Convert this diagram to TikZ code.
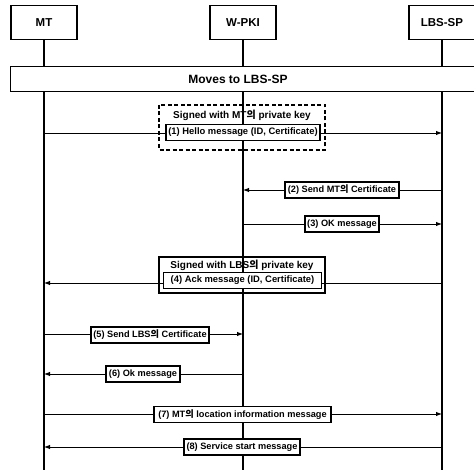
\documentclass[tikz,border=0pt]{standalone}
\usepackage{fontspec}
\setmainfont{Liberation Sans}
\newfontfamily\kr{Noto Sans CJK KR}
\usetikzlibrary{arrows.meta}
\newcommand{\ui}{{\kr 의}}
\tikzset{
  actor/.style={draw, line width=1.8pt, minimum width=66pt, minimum height=34pt, font=\fontsize{11.5}{13}\selectfont\bfseries},
  life/.style={line width=1.4pt},
  msg/.style={line width=0.9pt, -{Latex[length=6pt,width=4.5pt]}},
  lbl/.style={draw, line width=1.3pt, fill=white, inner sep=1pt, minimum height=16pt, font=\fontsize{9.2}{10}\selectfont\bfseries},
  grp/.style={line width=1.1pt, inner sep=0pt},
  grptxt/.style={font=\fontsize{10}{11}\selectfont\bfseries},
}
\begin{document}
\begin{tikzpicture}[x=1pt,y=-1pt]
\useasboundingbox (0,0) rectangle (474,470);
\clip (0,0) rectangle (474,470);
% actors
\node[actor] (mt) at (44,22.5) {MT};
\node[actor] (pki) at (243,22.5) {W-PKI};
\node[actor] (sp) at (442,22.5) {LBS-SP};
% band
\draw[line width=1pt] (10,67) rectangle (490,92);
\node[font=\fontsize{12}{13}\selectfont\bfseries] (band) at (238,79.5) {Moves to LBS-SP};
% coordinates on lifelines
\coordinate (mtA) at (44,67); \coordinate (mtB) at (44,92); \coordinate (mtE) at (44,472);
\coordinate (pkiA) at (243,67); \coordinate (pkiB) at (243,92); \coordinate (pkiE) at (243,472);
\coordinate (spA) at (442,67); \coordinate (spB) at (442,92); \coordinate (spE) at (442,472);
\draw[life] (mt.south) -- (mtA) (mtB) -- (mtE);
\draw[life] (pki.south) -- (pkiA) (pkiB) -- (pkiE);
\draw[life] (sp.south) -- (spA) (spB) -- (spE);
% message end points
\coordinate (m1s) at (44,133); \coordinate (m1e) at (442,133);
\coordinate (m2s) at (442,190); \coordinate (m2e) at (243,190);
\coordinate (m3s) at (243,224); \coordinate (m3e) at (442,224);
\coordinate (m4s) at (442,283); \coordinate (m4e) at (44,283);
\coordinate (m5s) at (44,334); \coordinate (m5e) at (243,334);
\coordinate (m6s) at (243,374); \coordinate (m6e) at (44,374);
\coordinate (m7s) at (44,414); \coordinate (m7e) at (442,414);
\coordinate (m8s) at (442,447); \coordinate (m8e) at (44,447);
\draw[msg] (m1s) -- (m1e);
\draw[msg] (m2s) -- (m2e);
\draw[msg] (m3s) -- (m3e);
\draw[msg] (m4s) -- (m4e);
\draw[msg] (m5s) -- (m5e);
\draw[msg] (m6s) -- (m6e);
\draw[msg] (m7s) -- (m7e);
\draw[msg] (m8s) -- (m8e);
% group boxes
\draw[grp, dashed, dash pattern=on 4pt off 2.5pt] (159,105) rectangle (325,150);
\node[grptxt] (g1) at (242,115) {Signed with MT\ui{} private key};
\draw[grp] (159,257) rectangle (325,293);
\node[grptxt] (g2) at (242,265) {Signed with LBS\ui{} private key};
% labels
\node[lbl, minimum width=154pt, font=\fontsize{9.4}{10}\selectfont\bfseries] (l1) at (243,132.5) {(1) Hello message (ID, Certificate)};
\node[lbl, minimum width=114pt] (l2) at (342,190) {(2) Send MT\ui{} Certificate};
\node[lbl, minimum width=74pt] (l3) at (342,224) {(3) OK message};
\node[lbl, minimum width=158pt, font=\fontsize{9.4}{10}\selectfont\bfseries] (l4) at (242.5,280.5) {(4) Ack message (ID, Certificate)};
\node[lbl, minimum width=118pt] (l5) at (150,335) {(5) Send LBS\ui{} Certificate};
\node[lbl, minimum width=74pt] (l6) at (143,374) {(6) Ok message};
\node[lbl, minimum width=177pt] (l7) at (242.5,414.5) {(7) MT\ui{} location information message};
\node[lbl, minimum width=116pt] (l8) at (242,447) {(8) Service start message};
\end{tikzpicture}
\end{document}
